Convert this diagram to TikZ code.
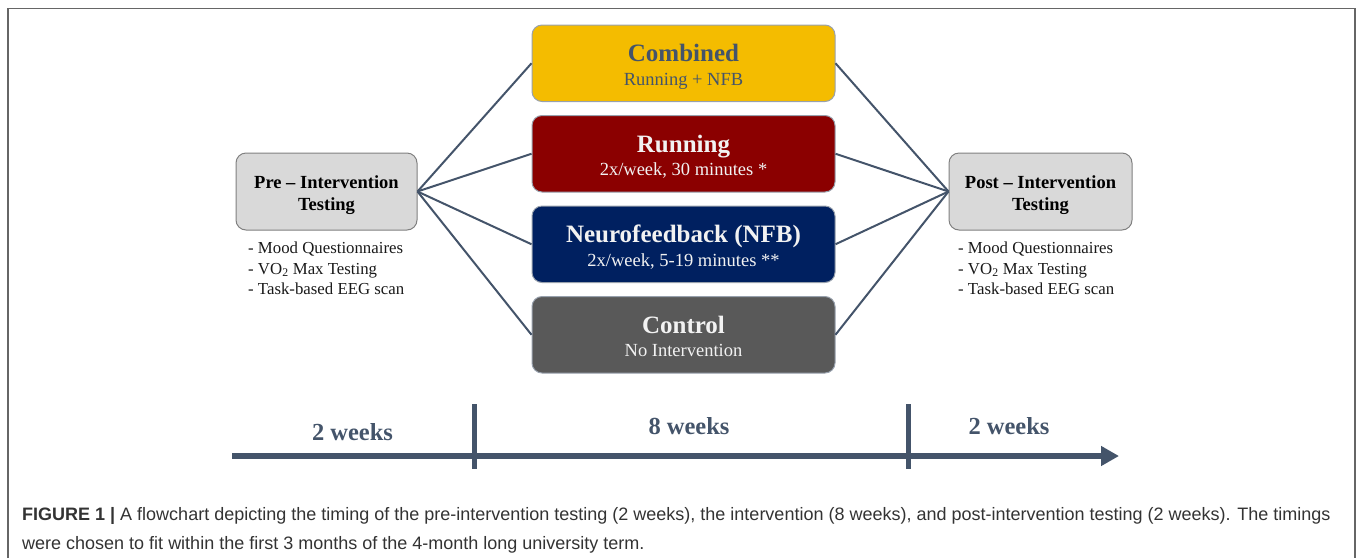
\documentclass[tikz,border=0pt]{standalone}
\usepackage{fontspec}
\setmainfont{Liberation Serif}
\newfontfamily\capfont{Liberation Sans}
\usetikzlibrary{arrows.meta}
\definecolor{slate}{HTML}{44546A}
\definecolor{goldfill}{HTML}{F4BC00}
\definecolor{redfill}{HTML}{8B0000}
\definecolor{navyfill}{HTML}{002060}
\definecolor{ctrlfill}{HTML}{595959}
\definecolor{prefill}{HTML}{D9D9D9}
\definecolor{capgray}{HTML}{333333}
\definecolor{wtext}{HTML}{F2F2F2}
\tikzset{
  grp/.style={draw=slate!55, line width=1pt, rounded corners=10pt, minimum width=303pt, minimum height=76.5pt, inner sep=0pt},
  pbox/.style={draw=gray, fill=prefill, line width=1pt, rounded corners=10pt, minimum width=181pt, minimum height=77pt, inner sep=0pt},
  ttl/.style={anchor=base, inner sep=0pt, font=\fontsize{25}{30}\selectfont\bfseries},
  sub/.style={anchor=base, inner sep=0pt, font=\fontsize{18.5}{22}\selectfont},
  ptxt/.style={anchor=base, inner sep=0pt, font=\fontsize{18.5}{22}\selectfont\bfseries, text=black},
  bul/.style={anchor=base west, inner sep=0pt, font=\fontsize{16.8}{20}\selectfont, text=black!90},
  conn/.style={draw=slate, line width=2pt},
  wk/.style={anchor=base, inner sep=0pt, font=\fontsize{24.5}{29}\selectfont\bfseries, text=slate},
  capt/.style={anchor=base west, inner sep=0pt, font=\capfont\fontsize{18}{22}\selectfont, text=capgray}
}
\begin{document}
\begin{tikzpicture}[x=1pt,y=-1pt]
\useasboundingbox (0,0) rectangle (1358,558);
% frame
\draw[gray!80!black, line width=1.5pt] (8,558) -- (8,8.5) -- (1355,8.5) -- (1355,558);

% group boxes
\node[grp, fill=goldfill] (comb) at (683.5,63.25) {};
\node[grp, fill=redfill]  (run)  at (683.5,153.75) {};
\node[grp, fill=navyfill] (nfb)  at (683.5,244.25) {};
\node[grp, fill=ctrlfill] (ctrl) at (683.5,334.75) {};

\node[ttl, text=slate] (combT) at (683.5,61.5) {Combined};
\node[sub, text=slate] (combS) at (683.5,85) {Running + NFB};
\node[ttl, text=wtext] (runT) at (683.5,152) {Running};
\node[sub, text=wtext] (runS) at (683.5,175.5) {2x/week, 30 minutes *};
\node[ttl, text=wtext] (nfbT) at (683.5,242.5) {Neurofeedback (NFB)};
\node[sub, text=wtext] (nfbS) at (683.5,266) {2x/week, 5-19 minutes **};
\node[ttl, text=wtext] (ctrlT) at (683.5,333) {Control};
\node[sub, text=wtext] (ctrlS) at (683.5,356.5) {No Intervention};

% pre / post boxes
\node[pbox] (pre) at (326.5,191.5) {};
\node[ptxt] (preT1) at (326.5,188.5) {Pre -- Intervention};
\node[ptxt] (preT2) at (326.5,210.5) {Testing};
\node[pbox, minimum width=183pt] (post) at (1040.5,191.5) {};
\node[ptxt] (postT1) at (1040.5,188.5) {Post -- Intervention};
\node[ptxt] (postT2) at (1040.5,210.5) {Testing};

\node[bul] (preB1) at (248,253.5) {- Mood Questionnaires};
\node[bul] (preB2) at (248,274) {- VO\textsubscript{2} Max Testing};
\node[bul] (preB3) at (248,294.5) {- Task-based EEG scan};
\node[bul] (postB1) at (958,253.5) {- Mood Questionnaires};
\node[bul] (postB2) at (958,274) {- VO\textsubscript{2} Max Testing};
\node[bul] (postB3) at (958,294.5) {- Task-based EEG scan};

% connectors
\foreach \g in {comb,run,nfb,ctrl}{
  \draw[conn] (pre.east) -- (\g.west);
  \draw[conn] (\g.east) -- (post.west);
}

% timeline
\coordinate (tlS) at (232,456);
\coordinate (tlE) at (1119,456);
\draw[slate, line width=6pt, -{Triangle[length=18pt,width=19pt]}] (tlS) -- (tlE);
\coordinate (tk1a) at (474,404);
\coordinate (tk1b) at (474,469);
\coordinate (tk2a) at (908,404);
\coordinate (tk2b) at (908,469);
\draw[slate, line width=5pt] (tk1a) -- (tk1b);
\draw[slate, line width=5pt] (tk2a) -- (tk2b);
\node[wk] (w1) at (352.5,440) {2 weeks};
\node[wk] (w2) at (689,434) {8 weeks};
\node[wk] (w3) at (1009,434) {2 weeks};

% caption
\node[capt] (cap1) at (22,520) {{\bfseries FIGURE 1 |} A flowchart depicting the timing of the pre-intervention testing (2 weeks), the intervention (8 weeks), and post-intervention testing (2 weeks). The timings};
\node[capt] (cap2) at (22,549) {were chosen to fit within the first 3 months of the 4-month long university term.};
\end{tikzpicture}
\end{document}
